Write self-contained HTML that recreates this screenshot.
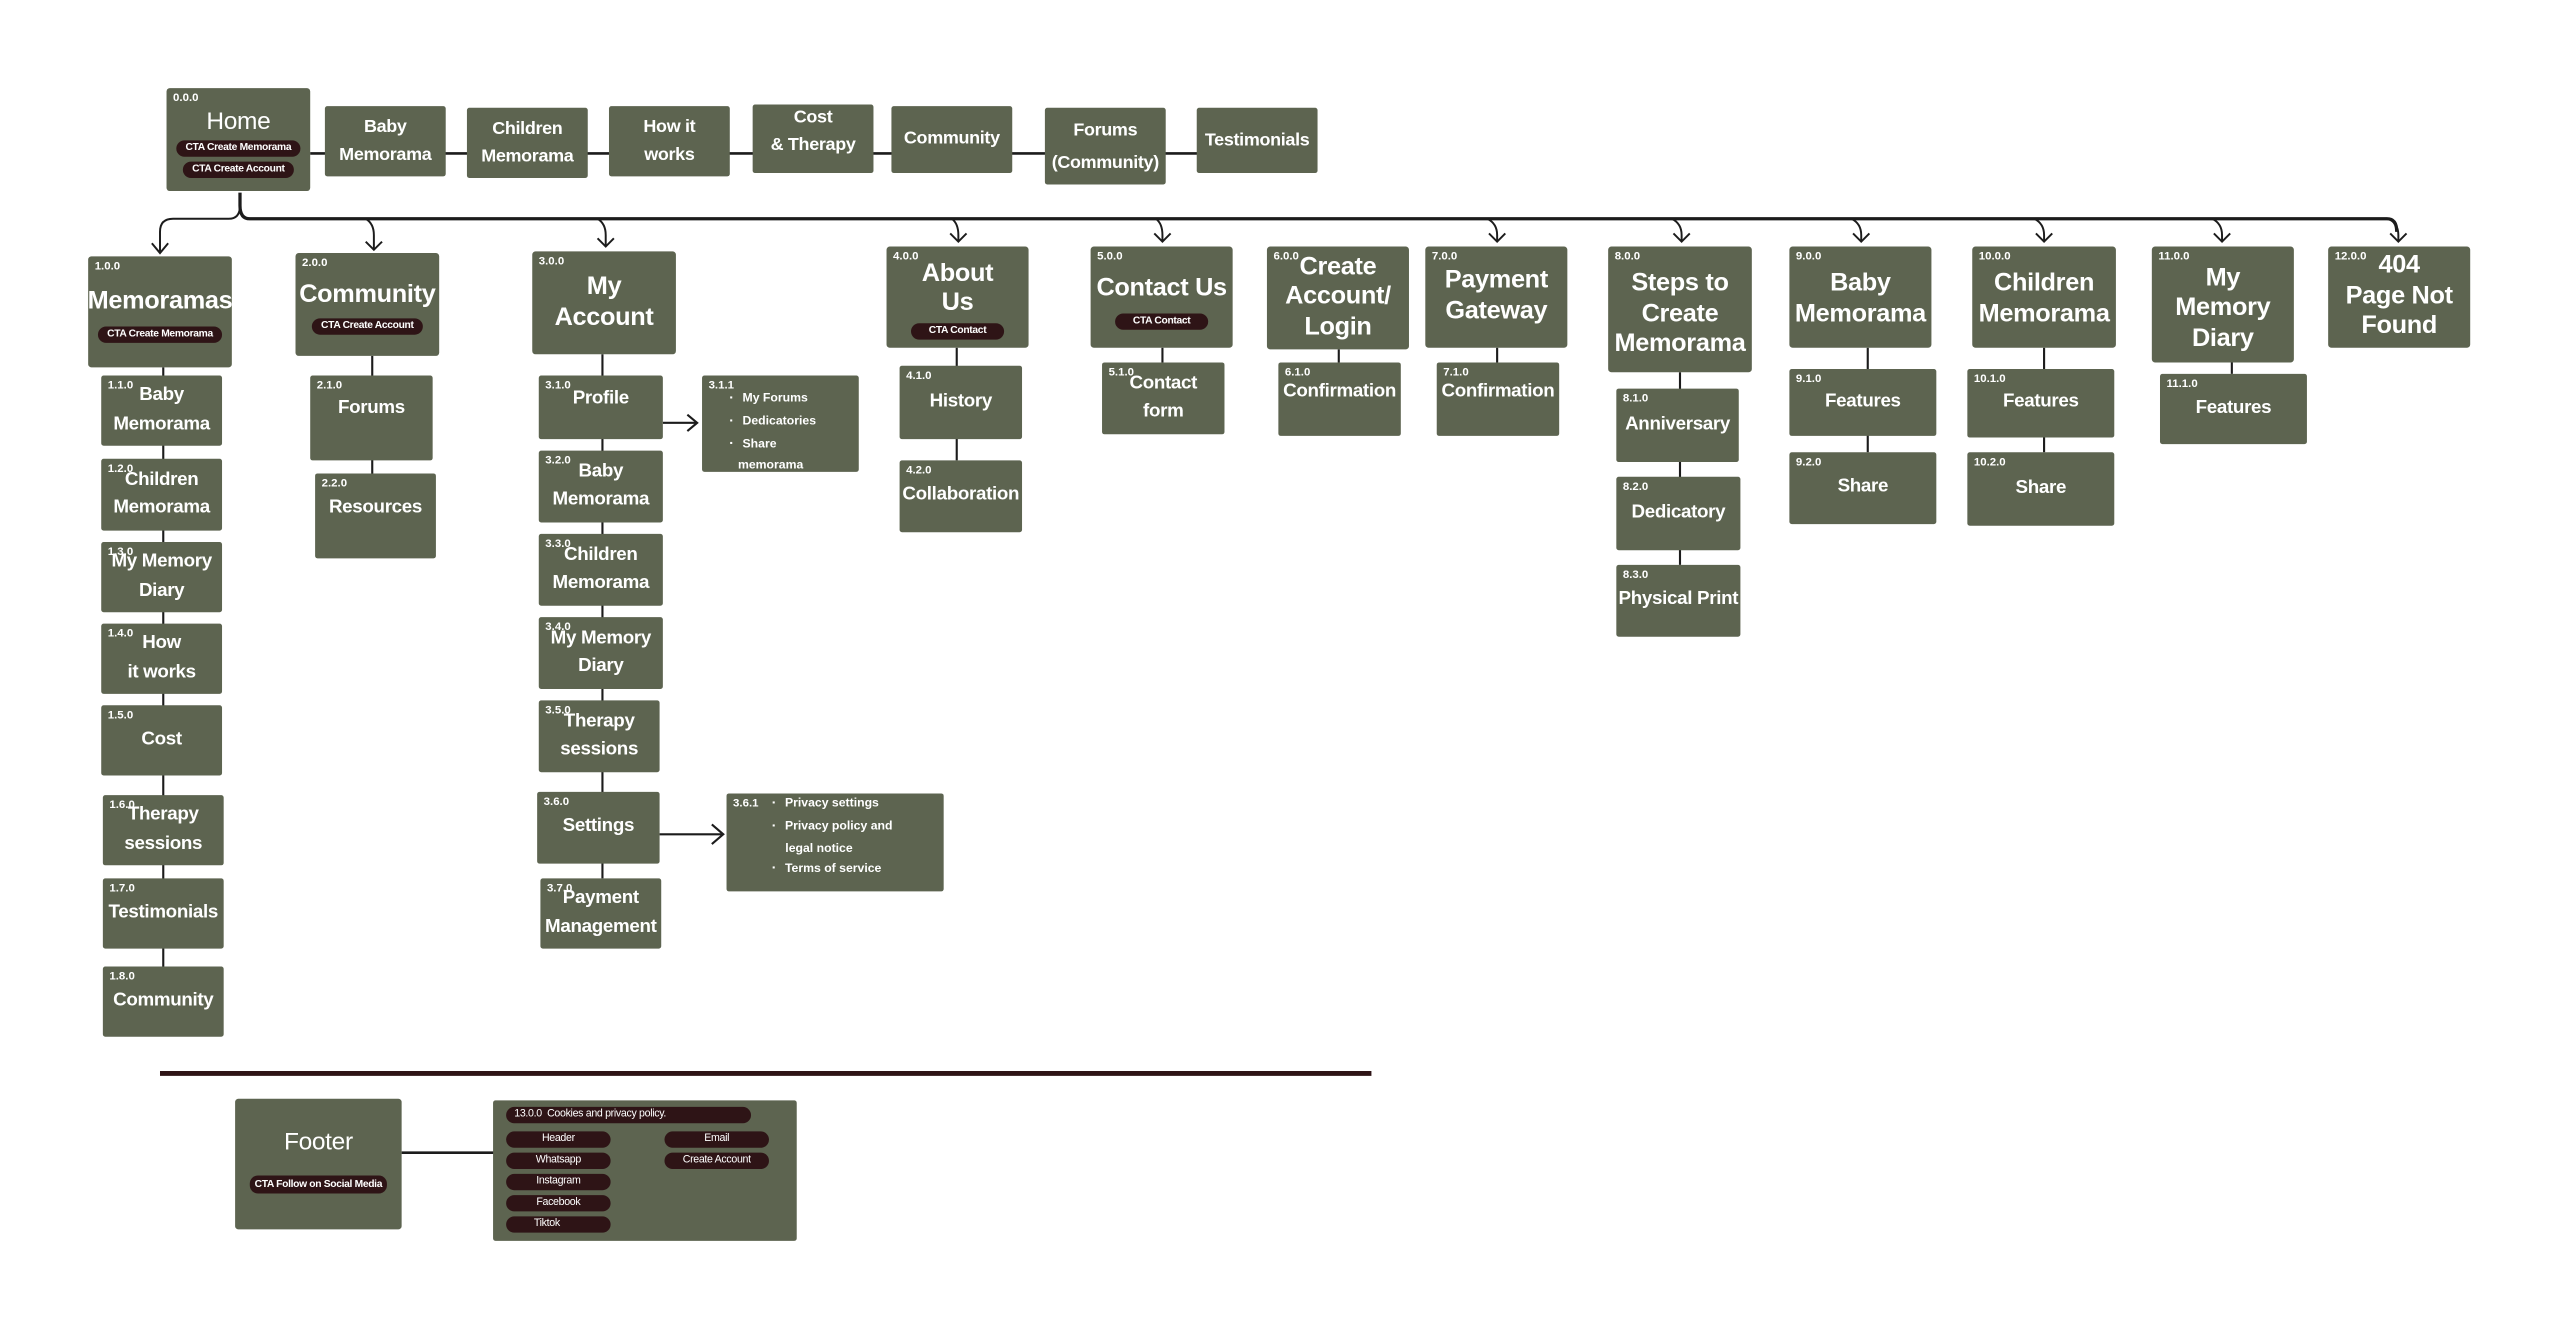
<!DOCTYPE html>
<html><head><meta charset="utf-8"><style>
html,body{margin:0;padding:0;background:#fff;overflow:hidden}
#w{position:absolute;left:0;top:0;width:1568px;height:815px;transform:scale(1.63265);transform-origin:0 0;font-family:"Liberation Sans",Arial,sans-serif}
.b{position:absolute;background:#5d6450;color:#fff;font-weight:bold;display:flex;flex-direction:column;align-items:center;justify-content:center;text-align:center;box-sizing:border-box;border-radius:1.5px;font-size:11.5px;line-height:17.5px;letter-spacing:-0.2px}
.b.l1{font-size:15.5px;line-height:18.5px;border-radius:2px}
.b.t{font-size:11px;line-height:17px}
.n{position:absolute;top:3px;left:4px;font-size:7px;line-height:8px;font-weight:bold;letter-spacing:0}
.p{background:#2e1416;color:#fff;font-size:6.3px;line-height:10px;border-radius:5px;padding:0 6px;margin-top:3px;white-space:nowrap;font-weight:bold}
.ul{position:absolute;color:#fff;font-size:7.5px;line-height:12.8px;font-weight:bold;text-align:left}
.ul div:before{content:"▪";font-size:5px;margin-right:6px;position:relative;top:-1px}
.ul .x:before{content:none}
svg{position:absolute;left:0;top:0}
</style></head><body><div id="w">
<svg width="1568" height="815" viewBox="0 0 1568 815" fill="none" stroke="#1c1c1c">
<line x1="190" y1="94" x2="735" y2="94" stroke-width="1.6"/>
<path d="M147 118 V126 Q147 134 153 134 H1462 Q1468 134 1468 142" stroke-width="2"/>
<path d="M147 126 Q147 134 140 134 H106 Q98 134 98 142 V154" stroke-width="1.2"/>
<path d="M93 149 L98 155 L103 149" stroke-width="1.2"/>
<g stroke-width="1.2">
<path d="M224 134 Q229 137 229 144 V153"/><path d="M224 148 L229 153 L234 148"/>
<path d="M366 134 Q371 137 371 144 V151"/><path d="M366 146 L371 151 L376 146"/>
<path d="M583 134 Q587 137 587 144 V148"/><path d="M582 143 L587 148 L592 143"/>
<path d="M708 134 Q712 137 712 144 V148"/><path d="M707 143 L712 148 L717 143"/>
<path d="M911 134 Q917 137 917 144 V148"/><path d="M912 143 L917 148 L922 143"/>
<path d="M1024 134 Q1030 137 1030 144 V148"/><path d="M1025 143 L1030 148 L1035 143"/>
<path d="M1134 134 Q1140 137 1140 144 V148"/><path d="M1135 143 L1140 148 L1145 143"/>
<path d="M1246 134 Q1252 137 1252 144 V148"/><path d="M1247 143 L1252 148 L1257 143"/>
<path d="M1355 134 Q1361 137 1361 144 V148"/><path d="M1356 143 L1361 148 L1366 143"/>
<path d="M1463 134 Q1469 137 1469 144 V148"/><path d="M1464 143 L1469 148 L1474 143"/>
</g>
<g stroke-width="1.3">
<line x1="100" y1="225" x2="100" y2="592"/>
<line x1="228" y1="218" x2="228" y2="290"/>
<line x1="369" y1="217" x2="369" y2="538"/>
<line x1="586" y1="213" x2="586" y2="282"/>
<line x1="712" y1="213" x2="712" y2="222"/>
<line x1="820" y1="214" x2="820" y2="222"/>
<line x1="917" y1="213" x2="917" y2="222"/>
<line x1="1029" y1="228" x2="1029" y2="346"/>
<line x1="1144" y1="213" x2="1144" y2="277"/>
<line x1="1252" y1="213" x2="1252" y2="277"/>
<line x1="1367" y1="222" x2="1367" y2="229"/>
<line x1="406" y1="259" x2="426" y2="259"/><path d="M421 254 L427 259 L421 264"/>
<line x1="404" y1="511" x2="442" y2="511"/><path d="M436 505 L443 511 L436 517"/>
<line x1="246" y1="706" x2="303" y2="706" stroke-width="1.6"/>
</g>
<line x1="98" y1="657.5" x2="840" y2="657.5" stroke="#2e1416" stroke-width="3"/>
</svg>

<div class="b l1" style="left:102px;top:54px;width:88px;height:63px;justify-content:flex-start;padding-top:12px;font-weight:normal"><span class="n">0.0.0</span><div style="font-size:15px;line-height:18px">Home</div><div class="p" style="margin-top:2px">CTA Create Memorama</div><div class="p" style="margin-top:3px">CTA Create Account</div></div>
<div class="b t" style="left:199px;top:65px;width:74px;height:43px">Baby<br>Memorama</div>
<div class="b t" style="left:286px;top:66px;width:74px;height:43px">Children<br>Memorama</div>
<div class="b t" style="left:373px;top:65px;width:74px;height:43px">How it<br>works</div>
<div class="b t" style="left:461px;top:64px;width:74px;height:42px;justify-content:flex-start;padding-top:0">Cost<br>&amp; Therapy</div>
<div class="b t" style="left:546px;top:65px;width:74px;height:41px">Community</div>
<div class="b t" style="left:640px;top:66px;width:74px;height:47px;line-height:20px">Forums<br>(Community)</div>
<div class="b t" style="left:733px;top:66px;width:74px;height:40px">Testimonials</div>

<div class="b l1" style="left:54px;top:157px;width:88px;height:68px"><span class="n">1.0.0</span><div style="margin-top:4px">Memoramas</div><div class="p" style="margin-top:6px">CTA Create Memorama</div></div>
<div class="b l1" style="left:181px;top:155px;width:88px;height:63px"><span class="n">2.0.0</span><div style="margin-top:4px">Community</div><div class="p" style="margin-top:5px">CTA Create Account</div></div>
<div class="b l1" style="left:326px;top:154px;width:88px;height:63px"><span class="n">3.0.0</span>My<br>Account</div>
<div class="b l1" style="left:543px;top:151px;width:87px;height:62px"><span class="n">4.0.0</span><div style="margin-top:2px">About<br>Us</div><div class="p" style="margin-top:2px;padding:0 11px">CTA Contact</div></div>
<div class="b l1" style="left:668px;top:151px;width:87px;height:62px"><span class="n">5.0.0</span><div style="margin-top:6px">Contact Us</div><div class="p" style="margin-top:6px;padding:0 11px">CTA Contact</div></div>
<div class="b l1" style="left:776px;top:151px;width:87px;height:63px"><span class="n">6.0.0</span>Create<br>Account/<br>Login</div>
<div class="b l1" style="left:873px;top:151px;width:87px;height:62px;justify-content:flex-start;padding-top:12px"><span class="n">7.0.0</span>Payment<br>Gateway</div>
<div class="b l1" style="left:985px;top:151px;width:88px;height:77px"><span class="n">8.0.0</span><div style="margin-top:7px">Steps to<br>Create<br>Memorama</div></div>
<div class="b l1" style="left:1096px;top:151px;width:87px;height:62px"><span class="n">9.0.0</span><div style="margin-top:3px">Baby<br>Memorama</div></div>
<div class="b l1" style="left:1208px;top:151px;width:88px;height:62px"><span class="n">10.0.0</span><div style="margin-top:3px">Children<br>Memorama</div></div>
<div class="b l1" style="left:1318px;top:151px;width:87px;height:71px"><span class="n">11.0.0</span><div style="margin-top:6px">My<br>Memory<br>Diary</div></div>
<div class="b l1" style="left:1426px;top:151px;width:87px;height:62px"><span class="n">12.0.0</span>404<br>Page Not<br>Found</div>

<div class="b" style="left:62px;top:230px;width:74px;height:43px"><span class="n">1.1.0</span>Baby<br>Memorama</div>
<div class="b" style="left:62px;top:281px;width:74px;height:44px"><span class="n">1.2.0</span>Children<br>Memorama</div>
<div class="b" style="left:62px;top:332px;width:74px;height:43px"><span class="n">1.3.0</span>My Memory<br>Diary</div>
<div class="b" style="left:62px;top:382px;width:74px;height:43px"><span class="n">1.4.0</span>How<br>it works</div>
<div class="b" style="left:62px;top:432px;width:74px;height:43px"><span class="n">1.5.0</span>Cost</div>
<div class="b" style="left:63px;top:487px;width:74px;height:43px"><span class="n">1.6.0</span>Therapy<br>sessions</div>
<div class="b" style="left:63px;top:538px;width:74px;height:43px"><span class="n">1.7.0</span>Testimonials</div>
<div class="b" style="left:63px;top:592px;width:74px;height:43px"><span class="n">1.8.0</span>Community</div>

<div class="b" style="left:190px;top:230px;width:75px;height:52px;justify-content:flex-start;padding-top:12px"><span class="n">2.1.0</span>Forums</div>
<div class="b" style="left:193px;top:290px;width:74px;height:52px;justify-content:flex-start;padding-top:13px"><span class="n">2.2.0</span>Resources</div>

<div class="b" style="left:330px;top:230px;width:76px;height:39px;justify-content:flex-start;padding-top:6px"><span class="n">3.1.0</span>Profile</div>
<div class="b" style="left:330px;top:276px;width:76px;height:44px"><span class="n">3.2.0</span>Baby<br>Memorama</div>
<div class="b" style="left:330px;top:327px;width:76px;height:44px"><span class="n">3.3.0</span>Children<br>Memorama</div>
<div class="b" style="left:330px;top:378px;width:76px;height:44px"><span class="n">3.4.0</span>My Memory<br>Diary</div>
<div class="b" style="left:330px;top:429px;width:74px;height:44px"><span class="n">3.5.0</span>Therapy<br>sessions</div>
<div class="b" style="left:329px;top:485px;width:75px;height:44px"><span class="n">3.6.0</span>Settings</div>
<div class="b" style="left:331px;top:538px;width:74px;height:43px"><span class="n">3.7.0</span>Payment<br>Management</div>
<div class="b" style="left:430px;top:230px;width:96px;height:59px"><span class="n">3.1.1</span></div>
<div class="ul" style="left:447px;top:238px"><div>My Forums</div><div>Dedicatories</div><div>Share</div><div style="padding-left:5px" class="x">memorama</div></div>
<div class="b" style="left:445px;top:486px;width:133px;height:60px"><span class="n">3.6.1</span></div>
<div class="ul" style="left:473px;top:486px"><div>Privacy settings</div><div>Privacy policy and</div><div style="padding-left:8px" class="x">legal notice</div><div>Terms of service</div></div>

<div class="b" style="left:551px;top:224px;width:75px;height:45px"><span class="n">4.1.0</span>History</div>
<div class="b" style="left:551px;top:282px;width:75px;height:44px"><span class="n">4.2.0</span>Collaboration</div>
<div class="b" style="left:675px;top:222px;width:75px;height:44px"><span class="n">5.1.0</span>Contact<br>form</div>
<div class="b" style="left:783px;top:222px;width:75px;height:45px;justify-content:flex-start;padding-top:10px"><span class="n">6.1.0</span>Confirmation</div>
<div class="b" style="left:880px;top:222px;width:75px;height:45px;justify-content:flex-start;padding-top:10px"><span class="n">7.1.0</span>Confirmation</div>
<div class="b" style="left:990px;top:238px;width:75px;height:45px"><span class="n">8.1.0</span>Anniversary</div>
<div class="b" style="left:990px;top:292px;width:76px;height:45px"><span class="n">8.2.0</span>Dedicatory</div>
<div class="b" style="left:990px;top:346px;width:76px;height:44px"><span class="n">8.3.0</span>Physical Print</div>
<div class="b" style="left:1096px;top:226px;width:90px;height:41px"><span class="n">9.1.0</span>Features</div>
<div class="b" style="left:1096px;top:277px;width:90px;height:44px"><span class="n">9.2.0</span>Share</div>
<div class="b" style="left:1205px;top:226px;width:90px;height:42px"><span class="n">10.1.0</span>Features</div>
<div class="b" style="left:1205px;top:277px;width:90px;height:45px"><span class="n">10.2.0</span>Share</div>
<div class="b" style="left:1323px;top:229px;width:90px;height:43px"><span class="n">11.1.0</span>Features</div>

<div class="b l1" style="left:144px;top:673px;width:102px;height:80px;font-weight:normal;font-size:15px"><div style="margin-top:-4px">Footer</div><div class="p" style="margin-top:10px;font-size:6.3px;padding:0 3px;line-height:11px">CTA Follow on Social Media</div></div>
<div class="b" style="left:302px;top:674px;width:186px;height:86px;display:block;font-weight:normal">
<div class="p" style="position:absolute;left:8px;top:4px;width:140px;text-align:left;margin:0;font-weight:normal;font-size:6.5px;line-height:10px;padding:0 5px">13.0.0 &nbsp;Cookies and privacy policy.</div>
<div class="p" style="position:absolute;left:8px;top:19px;width:54px;margin:0;font-weight:normal;font-size:6.5px;line-height:10px;padding:0 5px">Header</div>
<div class="p" style="position:absolute;left:8px;top:32px;width:54px;margin:0;font-weight:normal;font-size:6.5px;line-height:10px;padding:0 5px">Whatsapp</div>
<div class="p" style="position:absolute;left:8px;top:45px;width:54px;margin:0;font-weight:normal;font-size:6.5px;line-height:10px;padding:0 5px">Instagram</div>
<div class="p" style="position:absolute;left:8px;top:58px;width:54px;margin:0;font-weight:normal;font-size:6.5px;line-height:10px;padding:0 5px">Facebook</div>
<div class="p" style="position:absolute;left:8px;top:71px;width:54px;margin:0;font-weight:normal;font-size:6.5px;line-height:10px;padding:0 5px;text-align:left;text-indent:12px">Tiktok</div>
<div class="p" style="position:absolute;left:105px;top:19px;width:54px;margin:0;font-weight:normal;font-size:6.5px;line-height:10px;padding:0 5px">Email</div>
<div class="p" style="position:absolute;left:105px;top:32px;width:54px;margin:0;font-weight:normal;font-size:6.5px;line-height:10px;padding:0 5px">Create Account</div>
</div>
</div></body></html>
